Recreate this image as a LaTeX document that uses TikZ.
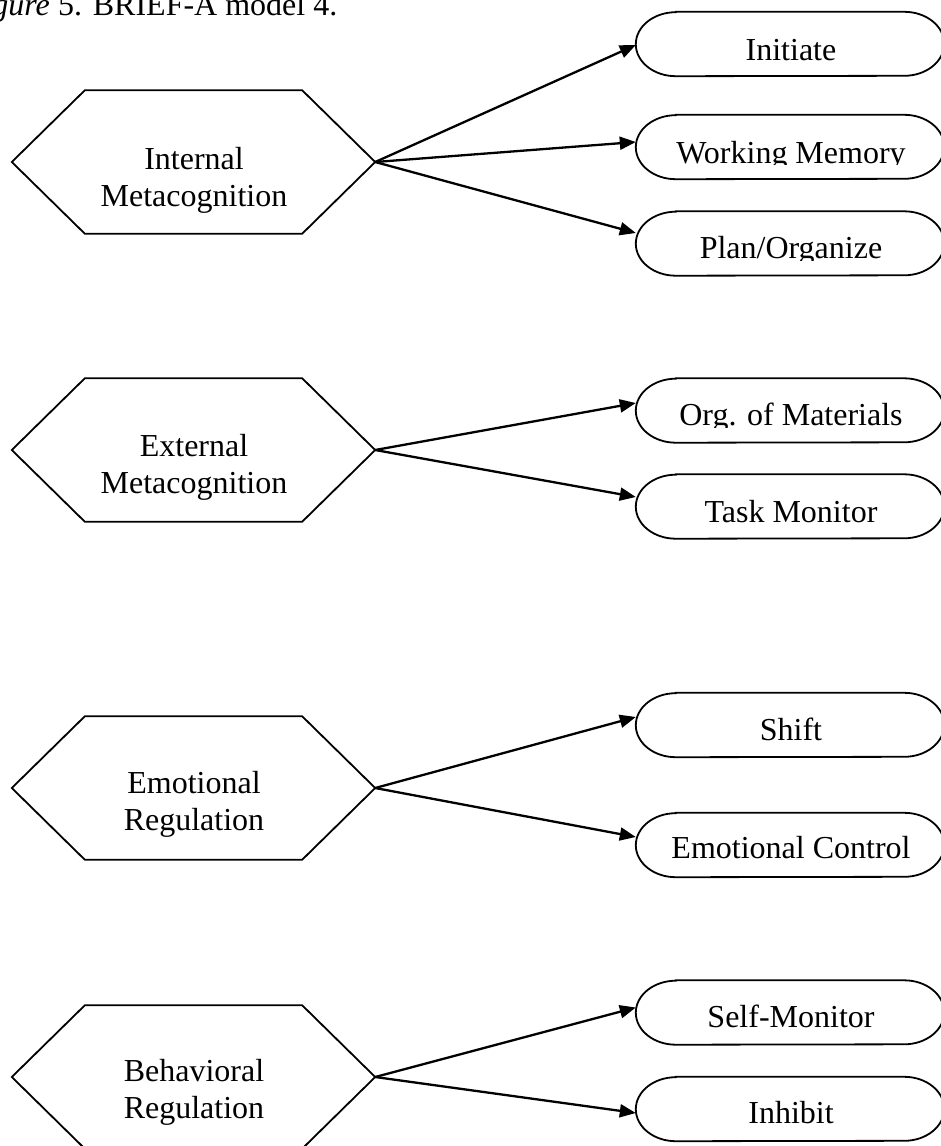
\documentclass[tikz,border=0pt]{standalone}
\usepackage{fontspec}
\setmainfont{Liberation Serif}
\usetikzlibrary{arrows.meta}
\begin{document}
\begin{tikzpicture}[x=1pt,y=1pt,
  hexframe/.style={draw=none, minimum width=363pt, minimum height=143pt, inner sep=0pt},
  stadframe/.style={draw=none, minimum width=308pt, minimum height=64pt, inner sep=0pt},
  lbl/.style={inner sep=0pt, font=\fontsize{32}{37}\selectfont, align=center},
  conn/.style={line width=2.3pt, -{Triangle[length=16pt,width=13pt]}},
  shapeline/.style={line width=1.8pt, line join=miter}]
\useasboundingbox (0,0) rectangle (941,-1146);
\clip (0,0) rectangle (941,-1146);

% title
\node[lbl, anchor=base east] (t1) at (50,-15) {\textit{Figure}};
\node[lbl, anchor=base west] (t2) at (58,-15) {5. BRIEF-A model 4.};

% hexagons
\node[hexframe] (h1) at (193.5,-162) {};
\node[hexframe] (h2) at (193.5,-450) {};
\node[hexframe] (h3) at (193.5,-788) {};
\node[hexframe] (h4) at (193.5,-1077) {};
\foreach \h in {h1,h2,h3,h4}
  \draw[shapeline] (\h.west) -- ([xshift=73pt]\h.north west) -- ([xshift=-73pt]\h.north east)
    -- (\h.east) -- ([xshift=-73pt]\h.south east) -- ([xshift=73pt]\h.south west) -- cycle;
\node[lbl, anchor=base] (h1t) at (194,-206) {Internal\\Metacognition};
\node[lbl, anchor=base] (h2t) at (194,-493) {External\\Metacognition};
\node[lbl, anchor=base] (h3t) at (194,-830) {Emotional\\Regulation};
\node[lbl, anchor=base] (h4t) at (194,-1118) {Behavioral\\Regulation};

% stadiums
\node[stadframe] (ini) at (790,-44) {};
\node[stadframe] (wm)  at (790,-147) {};
\node[stadframe] (po)  at (790,-243.5) {};
\node[stadframe] (oom) at (790,-410.5) {};
\node[stadframe] (tm)  at (790,-506.5) {};
\node[stadframe] (shf) at (790,-725) {};
\node[stadframe] (ec)  at (790,-845) {};
\node[stadframe] (sm)  at (790,-1012.5) {};
\node[stadframe] (inh) at (790,-1109) {};
\foreach \s in {ini,wm,po,oom,tm,shf,ec,sm,inh}
  \draw[shapeline] ([xshift=40pt]\s.north west) -- ([xshift=-40pt]\s.north east)
    arc[start angle=90, end angle=-90, x radius=40pt, y radius=32pt]
    -- ([xshift=40pt]\s.south west)
    arc[start angle=270, end angle=90, x radius=40pt, y radius=32pt] -- cycle;

\node[lbl, anchor=base] (init) at (791,-60) {Initiate};
\begin{scope}
  \clip (636,-100) rectangle (941,-164.5);
  \node[lbl, anchor=base] (wmt) at (791,-163) {Working Memory};
\end{scope}
\begin{scope}
  \clip (636,-200) rectangle (941,-260);
  \node[lbl, anchor=base] (pot) at (791,-258) {Plan/Organize};
\end{scope}
\begin{scope}
  \clip (636,-370) rectangle (941,-427);
  \node[lbl, anchor=base] (oomt) at (791,-425) {Org. of Materials};
\end{scope}
\node[lbl, anchor=base] (tmt) at (791,-522) {Task Monitor};
\node[lbl, anchor=base] (shft) at (791,-740) {Shift};
\node[lbl, anchor=base] (ect) at (791,-858) {Emotional Control};
\node[lbl, anchor=base] (smt) at (791,-1027) {Self-Monitor};
\node[lbl, anchor=base] (inht) at (791,-1123) {Inhibit};

% connectors
\draw[conn] (h1.east) -- ([yshift=-1pt]ini.west);
\draw[conn] (h1.east) -- ([yshift=5pt]wm.west);
\draw[conn] (h1.east) -- ([yshift=10.5pt]po.west);
\draw[conn] (h2.east) -- ([yshift=7.5pt]oom.west);
\draw[conn] (h2.east) -- ([yshift=9.5pt]tm.west);
\draw[conn] (h3.east) -- ([yshift=8pt]shf.west);
\draw[conn] (h3.east) -- ([yshift=8pt]ec.west);
\draw[conn] (h4.east) -- ([yshift=5pt]sm.west);
\draw[conn] (h4.east) -- ([yshift=-4pt]inh.west);
\end{tikzpicture}
\end{document}
